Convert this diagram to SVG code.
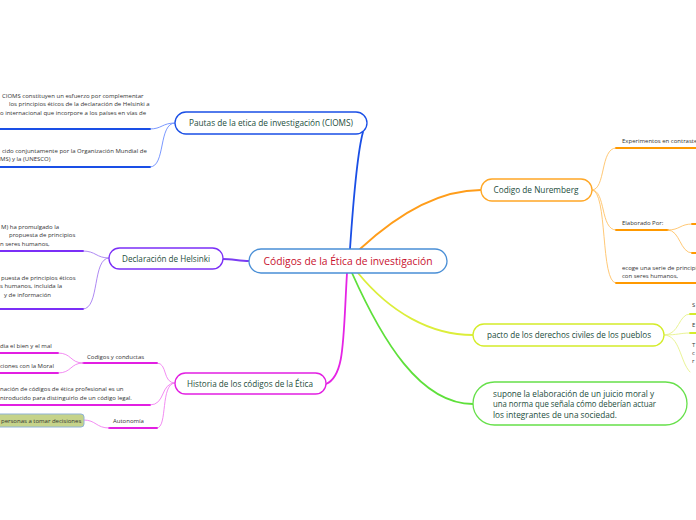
<svg xmlns="http://www.w3.org/2000/svg" width="696" height="520" viewBox="0 0 696 520" xml:space="preserve">
<style>
.node{fill:#fff;stroke-width:1.3}
.nt{font-family:"Open Sans","Liberation Sans",sans-serif;font-size:9px;fill:#1d4d3c;text-anchor:middle}
.st{font-family:"Open Sans","Liberation Sans",sans-serif;font-size:6px;fill:#333}
.c{fill:none;stroke-linecap:round}
.main{stroke-width:1.8}
.thin{stroke-width:0.9}
.ul{stroke-width:1.8}
</style>
<rect width="696" height="520" fill="#fff"/>
<g id="connectors">
  <path class="c main" stroke="#1a4fe6" d="M350 249 C354 190 358 150 363 132"/>
  <path class="c main" stroke="#ff9d1a" d="M360 249 C400 212 440 190 481 190"/>
  <path class="c main" stroke="#7b3df2" d="M249 261 C240 261 232 259 223 259"/>
  <path class="c main" stroke="#e524e5" d="M347 273 C343 340 345 376 326 384"/>
  <path class="c main" stroke="#dcee3a" d="M358 273 C390 312 430 335 473 335"/>
  <path class="c main" stroke="#5ee03a" d="M352 273 C382 340 420 404 473 404"/>
  <path class="c thin" stroke="#6b8cff" d="M175 123 C162 123 162 129 150 129"/>
  <path class="c thin" stroke="#6b8cff" d="M175 123 C158 123 166 167 150 167"/>
  <path class="c ul" stroke="#1a4fe6" d="M0 129 H150"/>
  <path class="c ul" stroke="#1a4fe6" d="M0 167 H150"/>
  <path class="c thin" stroke="#a57cf0" d="M109 258 C96 258 96 251 83 251"/>
  <path class="c thin" stroke="#a57cf0" d="M109 258 C92 258 100 309 83 309"/>
  <path class="c ul" stroke="#7b2ff7" d="M0 251 H83"/>
  <path class="c ul" stroke="#7b2ff7" d="M0 309 H83"/>
  <path class="c thin" stroke="#f07ff0" d="M175 383 C162 383 168 363 157 363"/>
  <path class="c thin" stroke="#f07ff0" d="M175 383 C160 383 166 405 150 405"/>
  <path class="c thin" stroke="#f07ff0" d="M175 383 C160 383 168 428 157 428"/>
  <path class="c ul" stroke="#e21fe2" d="M83 363 H157"/>
  <path class="c ul" stroke="#e21fe2" d="M0 405 H150"/>
  <path class="c ul" stroke="#e21fe2" d="M109 428 H157"/>
  <path class="c thin" stroke="#f07ff0" d="M83 363 C70 363 72 353 58 353"/>
  <path class="c thin" stroke="#f07ff0" d="M83 363 C70 363 72 373 58 373"/>
  <path class="c ul" stroke="#e21fe2" d="M0 353 H58"/>
  <path class="c ul" stroke="#e21fe2" d="M0 373 H58"/>
  <path class="c thin" stroke="#f07ff0" d="M109 428 C96 428 96 420 84 420"/>
  <path class="c thin" stroke="#ffc266" d="M592 190 C606 190 600 148 616 148"/>
  <path class="c thin" stroke="#ffc266" d="M592 190 C606 190 600 230 616 230"/>
  <path class="c thin" stroke="#ffc266" d="M592 190 C608 190 600 283 616 283"/>
  <path class="c ul" stroke="#ff9900" d="M616 148 H696"/>
  <path class="c ul" stroke="#ff9900" d="M616 230 H668"/>
  <path class="c ul" stroke="#ff9900" d="M616 283 H696"/>
  <path class="c thin" stroke="#ffc266" d="M668 230 C680 230 680 224 692 224"/>
  <path class="c thin" stroke="#ffc266" d="M668 230 C680 230 680 253 692 253"/>
  <path class="c ul" stroke="#ff9900" d="M692 224 H696"/>
  <path class="c ul" stroke="#ff9900" d="M692 253 H696"/>
  <path class="c thin" stroke="#e6f28a" d="M664 335 C680 335 678 314 690 314"/>
  <path class="c thin" stroke="#e6f28a" d="M664 335 C678 335 680 333 690 333"/>
  <path class="c thin" stroke="#e6f28a" d="M664 335 C680 335 680 362 690 372"/>
  <path class="c ul" stroke="#d4ec2a" d="M690 314 H696"/>
  <path class="c ul" stroke="#d4ec2a" d="M690 333 H696"/>
</g>
<g id="central">
  <rect class="node" x="249" y="249" width="198" height="24" rx="12" stroke="#4a8fd6"/>
  <text x="348" y="265" font-family="Open Sans, Liberation Sans, sans-serif" font-size="11" fill="#c8102e" text-anchor="middle" textLength="169" lengthAdjust="spacingAndGlyphs">Códigos  de  la Ética de investigación</text>
</g>
<g id="cioms">
  <rect class="node" x="175" y="112" width="192" height="22" rx="11" stroke="#1a4fe6"/>
  <text class="nt" x="271" y="126" textLength="164" lengthAdjust="spacingAndGlyphs">Pautas de la etica de investigación  (CIOMS)</text>
</g>
<g id="cioms-1">
  <text class="st" x="2" y="98">CIOMS constituyen un esfuerzo por complementar</text>
  <text class="st" x="9" y="106">los principios éticos de la declaración de Helsinki a</text>
  <text class="st" x="0" y="115">o internacional que incorpore a los países en vías de</text>
</g>
<g id="cioms-2">
  <text class="st" x="2" y="153">cido conjuntamente por la Organización Mundial de</text>
  <text class="st" x="0" y="161">MS)  y  la (UNESCO)</text>
</g>
<g id="helsinki">
  <rect class="node" x="109" y="248" width="114" height="21" rx="10.5" stroke="#7b2ff7"/>
  <text class="nt" x="166" y="262" textLength="88" lengthAdjust="spacingAndGlyphs">Declaración de Helsinki</text>
</g>
<g id="helsinki-1">
  <text class="st" x="1" y="229">M) ha promulgado la</text>
  <text class="st" x="9" y="237">propuesta de principios</text>
  <text class="st" x="0" y="246">n seres humanos,</text>
</g>
<g id="helsinki-2">
  <text class="st" x="1" y="280">puesta de principios éticos</text>
  <text class="st" x="0" y="288">s humanos, incluida la</text>
  <text class="st" x="4" y="297">y de información</text>
</g>
<g id="historia">
  <rect class="node" x="175" y="373" width="151" height="21" rx="10.5" stroke="#e21fe2"/>
  <text class="nt" x="250" y="387" textLength="126" lengthAdjust="spacingAndGlyphs">Historia de los códigos de la Ética</text>
</g>
<g id="codigos-conductas">
  <text class="st" x="87" y="359">Codigos y conductas</text>
</g>
<g id="bien-mal">
  <text class="st" x="0" y="348">dia el bien  y el mal</text>
</g>
<g id="moral">
  <text class="st" x="0" y="368">ciones con la Moral</text>
</g>
<g id="profesional">
  <text class="st" x="0" y="391">nación de códigos de ética profesional es un</text>
  <text class="st" x="0" y="400">ntroducido para distinguirlo de un código legal.</text>
</g>
<g id="autonomia">
  <text class="st" x="113" y="423">Autonomía</text>
</g>
<g id="decisiones">
  <rect x="-6" y="414" width="90" height="13" rx="3" fill="#c5d38a" stroke="#8fb3d6" stroke-width="1"/>
  <text class="st" x="1" y="423">personas a tomar decisiones</text>
</g>
<g id="nuremberg">
  <rect class="node" x="481" y="179" width="111" height="22" rx="11" stroke="#ffa726"/>
  <text class="nt" x="536" y="193" textLength="85" lengthAdjust="spacingAndGlyphs">Codigo de Nuremberg</text>
</g>
<g id="experimentos">
  <text class="st" x="622" y="143">Experimentos en contraste</text>
</g>
<g id="elaborado">
  <text class="st" x="622" y="225">Elaborado Por:</text>
</g>
<g id="recoge">
  <text class="st" x="622" y="270">ecoge una serie de principi</text>
  <text class="st" x="622" y="278">con seres humanos,</text>
</g>
<g id="pacto">
  <rect class="node" x="473" y="324" width="191" height="22" rx="11" stroke="#d4ec2a"/>
  <text class="nt" x="569" y="338" textLength="164" lengthAdjust="spacingAndGlyphs">pacto de los derechos civiles de los pueblos</text>
</g>
<g id="pacto-children">
  <text class="st" x="692" y="307">S</text>
  <text class="st" x="692" y="327">E</text>
  <text class="st" x="692" y="347">T</text>
  <text class="st" x="692" y="355">c</text>
  <text class="st" x="692" y="363">r</text>
</g>
<g id="supone">
  <rect class="node" x="473" y="382" width="214" height="43" rx="21.5" stroke="#66e04a"/>
  <text class="nt" x="493" y="397" style="text-anchor:start;font-size:8.5px" textLength="161" lengthAdjust="spacingAndGlyphs">supone la elaboración de un juicio moral y</text>
  <text class="nt" x="493" y="407" style="text-anchor:start;font-size:8.5px" textLength="163" lengthAdjust="spacingAndGlyphs">una norma que señala cómo deberían actuar</text>
  <text class="nt" x="493" y="418" style="text-anchor:start;font-size:8.5px" textLength="124" lengthAdjust="spacingAndGlyphs">los integrantes de una sociedad.</text>
</g>
</svg>
